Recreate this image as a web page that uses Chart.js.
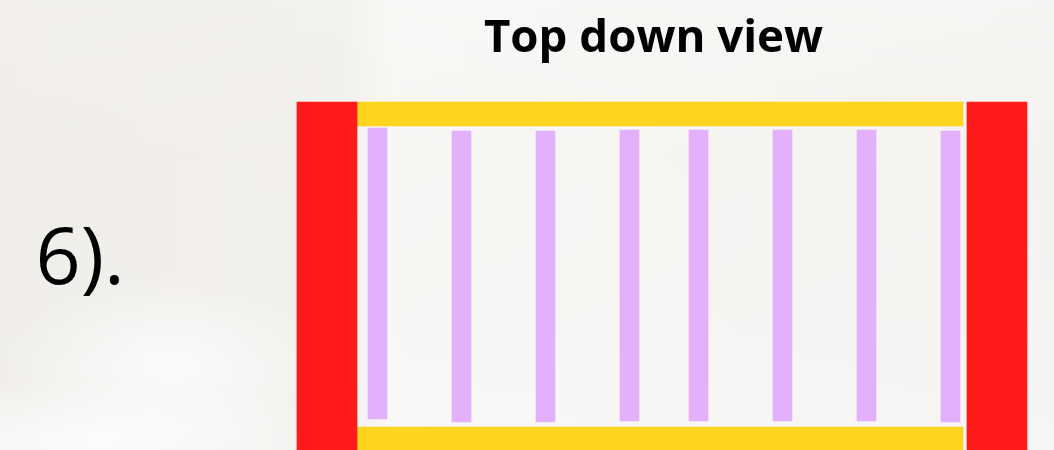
<!DOCTYPE html>
<html>
<head>
<meta charset="utf-8">
<title>Top down view</title>
<script src="https://cdn.jsdelivr.net/npm/chart.js@4"></script>
<style>
html, body { margin: 0; padding: 0; width: 1054px; height: 450px; overflow: hidden; }
body {
    background:
        radial-gradient(ellipse 170px 90px at 170px 365px, rgba(255,255,255,.75), rgba(255,255,255,0)),
        radial-gradient(ellipse 260px 60px at 100px 440px, rgba(255,255,255,.8), rgba(255,255,255,0)),
        linear-gradient(90deg, rgba(238,235,231,.55) 0, rgba(240,238,234,.5) 340px, rgba(250,249,247,.7) 390px, rgba(246,245,243,.4) 1054px),
        linear-gradient(180deg, #f6f5f3 0, #f3f1ee 150px, #f3f2f0 330px, #f6f6f5 450px);
}
#wrap { position: absolute; left: 0; top: 0; width: 1054px; height: 450px; }
</style>
</head>
<body>
<div id="wrap"><canvas id="chart_top"></canvas></div>
<script>
const titleText = 'Top down view';
const figureLabel = '6).';

// slats, left to right
const slatCentres = [377.5, 461.5, 545.5, 629.5, 698.5, 782.5, 866.5, 950.5];
const slatTops = [128, 131, 131, 130, 130, 130, 130, 131];
const slatBottoms = [419, 422, 422, 421, 421, 421, 421, 422];

const postCentres = [327, 997];
const postTops = [102, 102];
const postBottoms = [450, 450];

const railCentres = [660, 660];
const railTops = [102, 427];
const railBottoms = [126, 450];

function floating(centres, tops, bottoms) {
    return centres.map((c, i) => ({ x: c, y: [tops[i], bottoms[i]] }));
}

const textLabels = {
    id: 'textLabels',
    afterDatasetsDraw(chart) {
        const { ctx, scales: { x, y } } = chart;
        ctx.save();
        ctx.fillStyle = '#000';
        ctx.textBaseline = 'alphabetic';
        ctx.textAlign = 'center';
        ctx.font = 'bold 45.6px "Open Sans"';
        ctx.fillText(titleText, x.getPixelForValue(653.5), y.getPixelForValue(52));
        ctx.textAlign = 'left';
        ctx.font = '79px "Open Sans"';
        ctx.fillText(figureLabel, x.getPixelForValue(35.5), y.getPixelForValue(284));
        ctx.restore();
    }
};

const config = {
    type: 'bar',
    data: {
        datasets: [{
            label: 'Posts',
            data: floating(postCentres, postTops, postBottoms),
            backgroundColor: '#ff1a1a',
            barThickness: 60
        }, {
            label: 'Rails',
            data: floating(railCentres, railTops, railBottoms),
            backgroundColor: '#ffd41f',
            barThickness: 606
        }, {
            label: 'Slats',
            data: floating(slatCentres, slatTops, slatBottoms),
            backgroundColor: '#e3b0fb',
            barThickness: 19
        }]
    },
    options: {
        responsive: false,
        animation: false,
        layout: { padding: 0 },
        datasets: { bar: { grouped: false } },
        scales: {
            x: { type: 'linear', min: 0, max: 1054, offset: false, display: false },
            y: { min: 0, max: 450, reverse: true, display: false }
        },
        plugins: {
            legend: { display: false },
            tooltip: { enabled: false }
        }
    },
    plugins: [textLabels]
};

const canvas = document.getElementById('chart_top');
canvas.width = 1054;
canvas.height = 450;

document.fonts.load('bold 45.6px "Open Sans"').finally(() => {
    new Chart(canvas, config);
});
</script>
</body>
</html>
